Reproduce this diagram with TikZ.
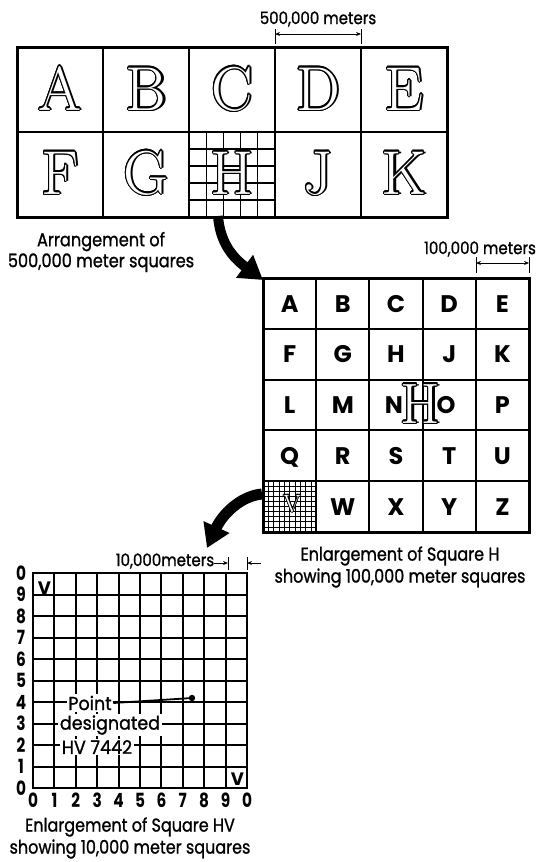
\documentclass[tikz,border=0pt]{standalone}
\usepackage{fontspec}
\usepackage{graphicx}
\usepackage{contour}
\usetikzlibrary{arrows.meta}
\newfontfamily\lett{Poppins}
\newfontfamily\lettm{Poppins}[FakeBold=1.2]
\contourlength{1.1pt}
\contournumber{16}
\newcommand\oface[1]{\contour{black}{\textcolor{white}{#1}}}
\newcommand\ofs[1]{\rlap{\hspace{2.4pt}#1}\oface{#1}}
\newcommand\tallt[1]{\scalebox{0.9}[1.15]{#1}}
\newcommand\capa[1]{\scalebox{0.95}[1.1]{#1}}
\newcommand\capb[1]{\scalebox{1}[1.16]{#1}}
\newcommand\dimsc[1]{\scalebox{1}[1.15]{#1}}
\newcommand\ptsc[1]{\scalebox{1.03}[1.1]{#1}}
\begin{document}
\begin{tikzpicture}[x=1pt,y=-1pt,
  bigL/.style={font=\fontsize{62}{62}\selectfont, anchor=base, inner sep=0pt},
  midL/.style={font=\lett\bfseries\fontsize{24}{24}\selectfont, anchor=base, inner sep=0pt},
  capt/.style={font=\lettm\fontsize{16}{22}\selectfont, align=center, inner sep=0pt},
  capttop/.style={font=\lettm\fontsize{17}{21}\selectfont, align=center, inner sep=0pt},
  dimt/.style={font=\lettm\fontsize{15}{15}\selectfont, inner sep=0pt},
  axisL/.style={font=\lett\bfseries\fontsize{17}{17}\selectfont, inner sep=0pt},
  smallV/.style={font=\lett\bfseries\fontsize{18}{18}\selectfont, anchor=base, inner sep=0pt},
  ptlab/.style={font=\lettm\fontsize{17}{17}\selectfont, fill=white, inner sep=1.5pt},
  gthick/.style={line width=3pt},
  gmid/.style={line width=2pt},
  gfine/.style={line width=1.1pt},
  gvfine/.style={line width=0.7pt},
  bigarrow/.style={line width=10pt, -{Triangle[length=23pt,width=27pt]}},
  dimarrow/.style={line width=1pt, {Stealth[length=5pt,width=4pt]}-{Stealth[length=5pt,width=4pt]}},
  onearrow/.style={line width=1pt, -{Stealth[length=5pt,width=4pt]}},
  tickln/.style={line width=1pt},
]
\path[use as bounding box] (0,0) rectangle (541,862);

% ---------------- top grid (500,000 m squares) ----------------
\foreach \i in {1,...,4} {
  \draw[gfine] ({189+17.2*\i},132) -- ({189+17.2*\i},217);
  \draw[gfine] (189,{132+17*\i}) -- (275,{132+17*\i});
}
\foreach \x in {103,189,275,361} \draw[gmid] (\x,47) -- (\x,217);
\draw[gmid] (17,132) -- (447,132);
\draw[gthick] (17,47) rectangle (447,217);
\foreach \l/\c/\r in {A/0/0,B/1/0,C/2/0,D/3/0,E/4/0,F/0/1,G/1/1,J/3/1,K/4/1}
  \node[bigL] (t\l) at ({60+86*\c},{110+84*\r}) {\ofs{\l}};
\node[bigL] (tH) at (232,194) {\ofs{H}};

\coordinate (tdA) at (275,29); \coordinate (tdB) at (275,44);
\coordinate (tdC) at (361,29); \coordinate (tdD) at (361,44);
\coordinate (tdL) at (275,34); \coordinate (tdR) at (361,34);
\draw[tickln] (tdA) -- (tdB);
\draw[tickln] (tdC) -- (tdD);
\draw[dimarrow] (tdL) -- (tdR);
\node[dimt] (tdim) at (318,19) {\dimsc{500,000 meters}};

\node[capttop] (tcap) at (101,252) {\capa{Arrangement of}\\\capa{500,000 meter squares}};

% ---------------- middle grid (100,000 m squares) ----------------
\foreach \i in {1,...,9} {
  \draw[gvfine] ({263+5.32*\i},481) -- ({263+5.32*\i},532);
  \draw[gvfine] (263,{481+5.1*\i}) -- (316,{481+5.1*\i});
}
\foreach \i in {1,...,4} {
  \draw[gmid] ({263+53.2*\i},278) -- ({263+53.2*\i},532);
  \draw[gmid] (263,{278+50.8*\i}) -- (529,{278+50.8*\i});
}
\draw[gthick] (263,278) rectangle (529,532);

\foreach \l/\c/\r in {A/0/0,B/1/0,C/2/0,D/3/0,E/4/0,
                      F/0/1,G/1/1,H/2/1,J/3/1,K/4/1,
                      L/0/2,M/1/2,P/4/2,
                      Q/0/3,R/1/3,S/2/3,T/3/3,U/4/3,
                      W/1/4,X/2/4,Y/3/4,Z/4/4}
  \node[midL] (m\l) at ({289.6+53.2*\c},{312+50.8*\r}) {\l};
\node[midL] (mN) at (394,413.5) {N};
\node[midL] (mO) at (446,413.5) {O};
\node[bigL, font=\fontsize{57}{57}\selectfont] (mHH) at (420.5,423) {\ofs{H}};
\node[bigL, font=\fontsize{25}{25}\selectfont] (mV) at (292,512) {\contourlength{0.8pt}\oface{V}};

\coordinate (mdA) at (476,257); \coordinate (mdB) at (476,273);
\coordinate (mdC) at (529,257); \coordinate (mdD) at (529,273);
\coordinate (mdL) at (476,263); \coordinate (mdR) at (529,263);
\draw[tickln] (mdA) -- (mdB);
\draw[tickln] (mdC) -- (mdD);
\draw[dimarrow] (mdL) -- (mdR);
\node[dimt] (mdim) at (480,249) {\dimsc{100,000 meters}};

\node[capt] (mcap) at (400,567) {\capb{Enlargement of Square H}\\\capb{showing 100,000 meter squares}};

% ---------------- bottom grid (10,000 m squares) ----------------
\foreach \i in {1,...,9} {
  \draw[gmid] ({33+21.4*\i},573) -- ({33+21.4*\i},788);
  \draw[gmid] (33,{573+21.5*\i}) -- (247,{573+21.5*\i});
}
\draw[line width=2.6pt] (33,573) rectangle (247,788);

\foreach \i in {0,...,10} {
  \pgfmathtruncatemacro{\ly}{mod(10-\i,10)}
  \pgfmathtruncatemacro{\lx}{mod(\i,10)}
  \node[axisL] (ay\i) at (21,{573+21.5*\i}) {\tallt{\ly}};
  \node[axisL] (ax\i) at ({33+21.4*\i},800) {\tallt{\lx}};
}
\node[smallV] (bV1) at (44.5,594) {V};
\node[smallV] (bV2) at (237.5,785.5) {V};

\node[ptlab] (pt1) at (90,703) {\ptsc{Point}};
\node[ptlab] (pt2) at (110,725) {\ptsc{designated}};
\node[ptlab] (pt3) at (97,747) {\ptsc{HV 7442}};
\coordinate (pdot) at (192,698);
\draw[line width=1.8pt] (pt1.east) -- (pdot);
\fill (pdot) circle (3.2);

\coordinate (bdA) at (228,557); \coordinate (bdB) at (228,570);
\coordinate (bdC) at (247,557); \coordinate (bdD) at (247,570);
\coordinate (bdL0) at (214,563); \coordinate (bdL1) at (228,563);
\coordinate (bdR0) at (261,563); \coordinate (bdR1) at (247,563);
\draw[tickln] (bdA) -- (bdB);
\draw[tickln] (bdC) -- (bdD);
\draw[onearrow] (bdL0) -- (bdL1);
\draw[onearrow] (bdR0) -- (bdR1);
\node[dimt] (bdim) at (165,561) {\dimsc{10,000meters}};

\node[capt] (bcap) at (130,838) {\capb{Enlargement of Square HV}\\\capb{showing 10,000 meter squares}};

% ---------------- big curved arrows ----------------
\coordinate (a1s) at (218,216);
\coordinate (a1e) at (263,280);
\draw[bigarrow] (a1s) .. controls (220,242) and (232,257) .. (a1e);
\coordinate (a2s) at (262,494);
\coordinate (a2e) at (207,548);
\draw[bigarrow, line width=11pt] (a2s) .. controls (240,496) and (222,515) .. (a2e);
\end{tikzpicture}
\end{document}
